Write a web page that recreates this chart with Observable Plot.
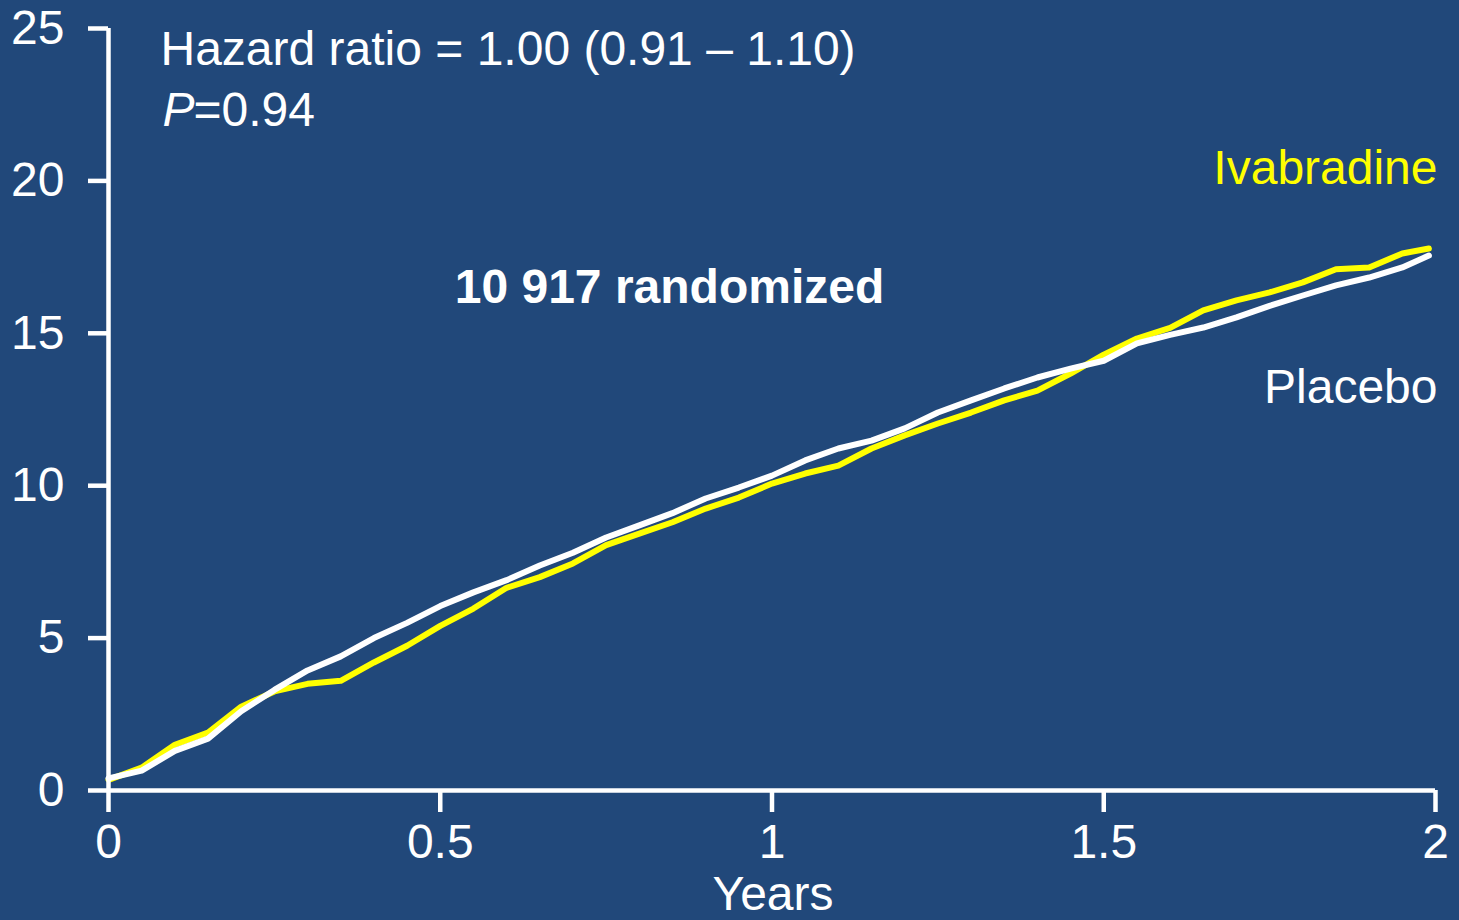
<!DOCTYPE html>
<html>
<head>
<meta charset="utf-8">
<script src="https://cdn.jsdelivr.net/npm/d3@7"></script>
<script src="https://cdn.jsdelivr.net/npm/@observablehq/plot@0.6"></script>
<style>
  html, body { margin: 0; padding: 0; background: #21487a; }
  #chart { width: 1459px; height: 920px; overflow: hidden; }
</style>
</head>
<body>
<div id="chart"></div>
<script>
const years = [0, 0.05, 0.1, 0.15, 0.2, 0.25, 0.3, 0.35, 0.4, 0.45, 0.5, 0.55, 0.6, 0.65, 0.7, 0.75, 0.8, 0.85, 0.9, 0.95, 1.0, 1.05, 1.1, 1.15, 1.2, 1.25, 1.3, 1.35, 1.4, 1.45, 1.5, 1.55, 1.6, 1.65, 1.7, 1.75, 1.8, 1.85, 1.9, 1.95, 1.99];
const placebo = [0.4, 0.65, 1.3, 1.7, 2.6, 3.3, 3.94, 4.4, 5.0, 5.5, 6.05, 6.5, 6.9, 7.38, 7.8, 8.3, 8.7, 9.1, 9.58, 9.94, 10.33, 10.83, 11.22, 11.48, 11.88, 12.4, 12.8, 13.19, 13.55, 13.84, 14.1, 14.67, 14.95, 15.19, 15.52, 15.9, 16.24, 16.57, 16.83, 17.16, 17.55];
const ivabradine = [0.35, 0.75, 1.5, 1.9, 2.75, 3.25, 3.5, 3.6, 4.2, 4.75, 5.4, 5.97, 6.65, 7.0, 7.45, 8.05, 8.43, 8.8, 9.25, 9.61, 10.07, 10.4, 10.66, 11.22, 11.65, 12.04, 12.4, 12.8, 13.12, 13.68, 14.3, 14.83, 15.18, 15.75, 16.08, 16.34, 16.67, 17.1, 17.16, 17.62, 17.78];
const xTicks = [0, 0.5, 1, 1.5, 2];
const xTickLabels = ["0", "0.5", "1", "1.5", "2"];
const yTicks = [0, 5, 10, 15, 20, 25];
const seriesNames = ["Ivabradine", "Placebo"];
const seriesColors = ["#ffff00", "#ffffff"];

const ivaData = years.map((t, i) => ({t, v: ivabradine[i]}));
const plaData = years.map((t, i) => ({t, v: placebo[i]}));

const font = "'Liberation Sans', Arial, sans-serif";
const FS = 48;

const chart = Plot.plot({
  width: 1459,
  height: 920,
  marginLeft: 108,
  marginRight: 24,
  marginTop: 28,
  marginBottom: 130,
  style: {background: "#21487a", fontFamily: font, color: "white", overflow: "visible"},
  x: {domain: [0, 2]},
  y: {domain: [0, 25]},
  marks: [
    Plot.lineY(ivaData, {x: "t", y: "v", stroke: seriesColors[0], strokeWidth: 6}),
    Plot.lineY(plaData, {x: "t", y: "v", stroke: seriesColors[1], strokeWidth: 6}),
    Plot.ruleX([0], {y1: 0, y2: 25, stroke: "white", strokeWidth: 4.5}),
    Plot.ruleY([0], {x1: 0, x2: 2, stroke: "white", strokeWidth: 4.5}),
    Plot.axisY({ticks: yTicks, tickSize: 20, tickPadding: 24, fontSize: FS, color: "white", strokeWidth: 4.5, label: null, tickFormat: d => String(d)}),
    Plot.axisX({ticks: xTicks, tickSize: 22, tickPadding: 11, fontSize: FS, color: "white", strokeWidth: 4.5, label: null, tickFormat: d => xTickLabels[xTicks.indexOf(d)]}),
    Plot.text(["Years"], {frameAnchor: "bottom", dx: 1, dy: 119, lineAnchor: "bottom", fontSize: FS, fill: "white"}),
    Plot.text(["Hazard ratio = 1.00 (0.91 – 1.10)"], {frameAnchor: "top-left", dx: 52, dy: 36, textAnchor: "start", lineAnchor: "bottom", fontSize: FS, fill: "white"}),
    Plot.text(["P"], {frameAnchor: "top-left", dx: 54, dy: 97, textAnchor: "start", lineAnchor: "bottom", fontSize: FS, fill: "white", fontStyle: "italic"}),
    Plot.text(["=0.94"], {frameAnchor: "top-left", dx: 85, dy: 97, textAnchor: "start", lineAnchor: "bottom", fontSize: FS, fill: "white"}),
    Plot.text(["10 917 randomized"], {frameAnchor: "top-left", dx: 561, dy: 274, textAnchor: "middle", lineAnchor: "bottom", fontSize: FS, fill: "white", fontWeight: "bold"}),
    Plot.text([seriesNames[0]], {frameAnchor: "top-right", dx: 2, dy: 155, textAnchor: "end", lineAnchor: "bottom", fontSize: FS, fill: seriesColors[0]}),
    Plot.text([seriesNames[1]], {frameAnchor: "top-right", dx: 2, dy: 374, textAnchor: "end", lineAnchor: "bottom", fontSize: FS, fill: seriesColors[1]})
  ]
});
document.getElementById("chart").appendChild(chart);
</script>
</body>
</html>
